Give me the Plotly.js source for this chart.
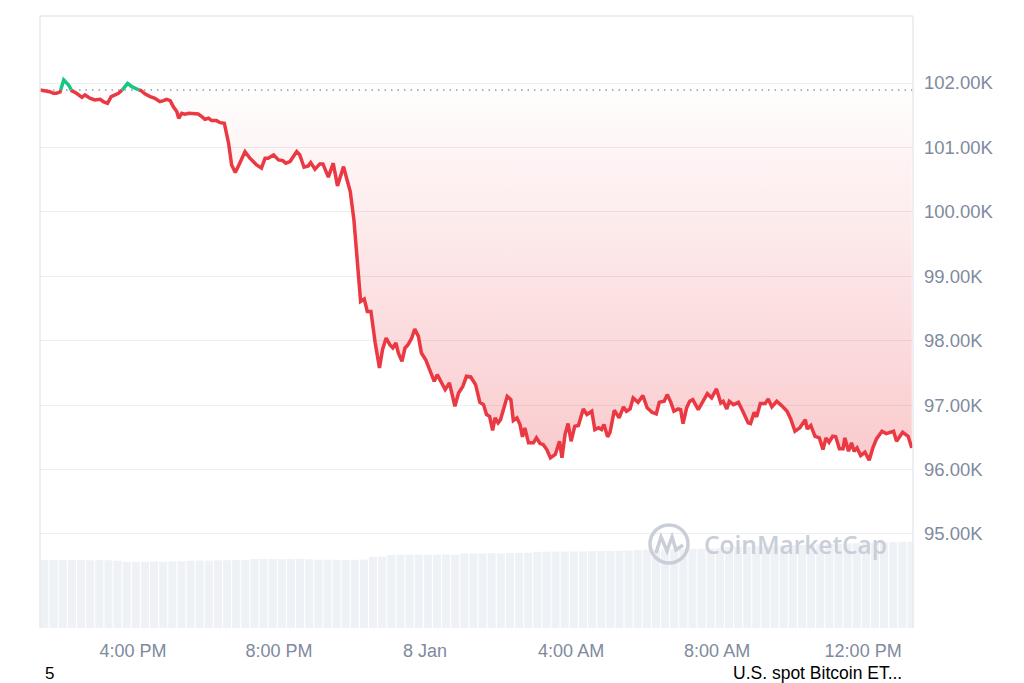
<!DOCTYPE html>
<html><head><meta charset="utf-8">
<script src="https://cdn.plot.ly/plotly-3.0.1.min.js"></script>
<style>html,body{margin:0;padding:0;background:#fff}#chart{width:1024px;height:683px}</style>
</head><body><div id="chart"></div>
<script>
// ---- data ----
const startTime = Date.UTC(2025, 0, 7, 13, 27); // 7 Jan, 13:27
const rangeMinutes = [0, 1435];

const priceMinutes = [0,8,16,22,27,33,39,47,52,60,69,74,82,90,99,104,111,117,123,129,135,144,151,159,166,173,181,189,197,203,208,214,219,225,228,233,238,245,252,260,266,271,277,282,290,296,303,310,315,321,327,337,345,356,364,370,375,384,392,399,404,411,422,427,434,441,445,452,460,465,474,482,489,493,499,504,510,516,521,527,533,538,544,551,558,563,569,575,580,585,589,595,600,605,611,616,622,627,634,641,648,653,659,666,673,677,682,688,695,701,708,716,723,729,734,739,744,748,753,757,762,768,774,778,784,789,793,797,803,811,816,822,827,833,839,847,854,858,863,868,873,879,885,893,899,907,912,918,923,927,933,937,944,952,959,964,970,975,983,991,998,1006,1013,1018,1026,1031,1037,1042,1049,1053,1057,1063,1068,1073,1082,1090,1097,1104,1112,1119,1123,1129,1133,1140,1148,1156,1164,1168,1174,1178,1184,1192,1197,1203,1211,1219,1228,1234,1241,1249,1258,1261,1267,1274,1281,1287,1292,1297,1303,1308,1314,1320,1323,1329,1334,1338,1343,1349,1356,1363,1369,1375,1384,1391,1396,1403,1408,1418,1427,1433];

const priceUSD = [101891,101881,101865,101840,101840,101860,102047,101969,101881,101840,101778,101814,101763,101736,101747,101710,101685,101788,101809,101840,101891,101995,101943,101902,101881,101829,101788,101763,101710,101726,101747,101726,101633,101555,101453,101530,101515,101530,101519,101519,101478,101437,101453,101416,101416,101384,101375,101065,100729,100609,100729,100935,100833,100729,100678,100833,100833,100884,100806,100795,100755,100780,100935,100884,100693,100713,100764,100662,100744,100744,100538,100755,100403,100522,100702,100522,100315,99876,99360,98609,98647,98454,98454,97964,97577,97860,98042,97938,97887,97964,97809,97679,97887,97938,98042,98181,98067,97809,97705,97550,97369,97473,97353,97240,97344,97163,96981,97189,97291,97447,97437,97318,97043,97008,96853,96826,96609,96802,96724,96775,96930,97136,97085,96760,96802,96698,96507,96647,96414,96414,96491,96403,96388,96310,96181,96233,96439,96181,96543,96713,96439,96671,96682,96941,96853,96904,96620,96647,96620,96698,96507,96578,96919,96802,96972,96904,96941,97112,97043,97147,96957,96888,96864,97043,97059,97163,97043,96904,96941,96930,96713,96961,97059,97085,96930,97059,97178,97112,97251,97034,97059,96941,97059,97008,97043,96888,96724,96713,96888,96817,97023,97023,97096,96972,97059,96992,96904,96786,96594,96647,96775,96631,96682,96516,96491,96310,96491,96423,96516,96507,96321,96321,96491,96284,96414,96284,96336,96217,96268,96144,96336,96476,96594,96558,96578,96594,96439,96578,96516,96336];

const openPrice = 101891; // dotted reference line (first price)

const volumeMinutes = [0,15,30,45,60,75,90,105,120,135,150,165,180,195,210,225,240,255,270,285,300,315,330,345,360,375,390,405,420,435,450,465,480,495,510,525,540,555,570,585,600,615,630,645,660,675,690,705,720,735,750,765,780,795,810,825,840,855,870,885,900,915,930,945,960,975,990,1005,1020,1035,1050,1065,1080,1095,1110,1125,1140,1155,1170,1185,1200,1215,1230,1245,1260,1275,1290,1305,1320,1335,1350,1365,1380,1395,1410,1425];
const volumeB = [44.4,44.5,44.3,44.4,44.4,44.2,44.4,44.3,44.0,43.3,43.2,43.3,43.4,43.3,43.5,43.6,44.0,44.1,44.0,44.2,44.3,44.4,44.5,45.1,45.2,45.1,45.0,45.1,45.2,45.0,44.6,44.7,44.6,44.5,44.6,44.7,46.6,46.7,47.8,47.9,47.9,48.0,47.9,48.0,48.1,48.0,48.7,48.8,48.8,48.9,48.8,49.0,49.1,49.2,49.8,49.9,49.9,50.0,50.1,50.0,50.2,50.3,50.4,50.5,50.7,50.9,51.2,51.3,51.4,51.4,51.6,51.7,51.8,52.0,52.2,52.9,53.1,53.2,53.4,53.6,53.8,54.0,54.1,54.3,54.5,54.6,54.8,55.0,55.2,55.4,55.5,55.7,55.9,56.1,56.3,56.4];

const xTickMinutes = [153, 393, 633, 873, 1113, 1353];
const xTickLabels = ['4:00 PM', '8:00 PM', '8 Jan', '4:00 AM', '8:00 AM', '12:00 PM'];
const yTickValues = [95000, 96000, 97000, 98000, 99000, 100000, 101000, 102000];
const yTickLabels = ['95.00K', '96.00K', '97.00K', '98.00K', '99.00K', '100.00K', '101.00K', '102.00K'];
const yRange = [93540, 103040];
const volumeRange = [0, 400];

const footerLeft = '5';
const footerRight = 'U.S. spot Bitcoin ET...';
const watermark = 'CoinMarketCap';

// ---- build ----
const toT = m => startTime + m * 60000;
const xs = priceMinutes.map(toT);

function splitByBase(x, y, base) {
  const red = {x: [], y: []}, green = {x: [], y: []};
  const side = v => (v > base ? green : red);
  let cur = side(y[0]);
  cur.x.push(x[0]); cur.y.push(y[0]);
  for (let i = 1; i < x.length; i++) {
    const s = side(y[i]);
    if (s !== cur) {
      const t = (base - y[i - 1]) / (y[i] - y[i - 1]);
      const xc = x[i - 1] + t * (x[i] - x[i - 1]);
      cur.x.push(xc); cur.y.push(base);
      cur.x.push(null); cur.y.push(null);
      cur = s;
      cur.x.push(xc); cur.y.push(base);
    }
    cur.x.push(x[i]); cur.y.push(y[i]);
  }
  return {red, green};
}
const parts = splitByBase(xs, priceUSD, openPrice);

const RED = '#ea3943', GREEN = '#16c784';
const fontFam = '"Liberation Sans", Arial, Helvetica, sans-serif';
const tickFont = {family: fontFam, size: 18.5, color: '#808a9d'};

const traces = [
  {
    type: 'bar', x: volumeMinutes.map(m => toT(m + 7.5)), y: volumeB, yaxis: 'y2',
    marker: {color: '#eef1f6', line: {width: 0}}, hoverinfo: 'skip'
  },
  {
    type: 'scatter', mode: 'lines', x: xs, y: xs.map(() => openPrice),
    line: {width: 0, color: 'rgba(0,0,0,0)'}, hoverinfo: 'skip'
  },
  {
    type: 'scatter', mode: 'lines', x: xs, y: priceUSD, fill: 'tonexty',
    line: {width: 0, color: 'rgba(0,0,0,0)'},
    fillgradient: {type: 'vertical', start: 96000, stop: openPrice,
      colorscale: [[0, 'rgba(234,57,67,0.27)'], [1, 'rgba(234,57,67,0.01)']]},
    hoverinfo: 'skip'
  },
  {
    type: 'scatter', mode: 'lines', x: parts.red.x, y: parts.red.y,
    line: {color: RED, width: 3.5}, connectgaps: false, hoverinfo: 'skip'
  },
  {
    type: 'scatter', mode: 'lines', x: parts.green.x, y: parts.green.y,
    line: {color: GREEN, width: 3.5}, connectgaps: false, hoverinfo: 'skip'
  }
];

const px = x => (x - 40) / 873, py = y => (628 - y) / 612;
const border = '#e6e8ec';
const wm = '#c9ced8';

const layout = {
  width: 1024, height: 683,
  margin: {l: 40, r: 111, t: 16, b: 55, pad: 0},
  paper_bgcolor: '#ffffff', plot_bgcolor: '#ffffff',
  showlegend: false, bargap: 0.12, hovermode: false,
  font: {family: fontFam, color: '#808a9d', size: 18},
  xaxis: {
    type: 'date', range: rangeMinutes.map(toT),
    tickvals: xTickMinutes.map(toT), ticktext: xTickLabels,
    showgrid: false, zeroline: false, showline: false, ticks: '',
    ticklabelstandoff: 10, tickfont: {family: fontFam, size: 18, color: '#808a9d'}, fixedrange: true
  },
  yaxis: {
    side: 'right', range: yRange, tickvals: yTickValues, ticktext: yTickLabels,
    showgrid: true, gridcolor: '#eceef2', gridwidth: 1, zeroline: false, showline: false,
    ticks: '', ticklabelstandoff: 10, tickfont: tickFont, fixedrange: true
  },
  yaxis2: {overlaying: 'y', range: volumeRange, visible: false, fixedrange: true},
  shapes: [
    {type: 'line', xref: 'paper', yref: 'y', x0: 0, x1: 1, y0: openPrice, y1: openPrice,
     line: {color: '#959dac', width: 1.4, dash: '1.5px,5px'}, layer: 'below'},
    {type: 'line', xref: 'paper', yref: 'paper', x0: 0, x1: 1, y0: 1, y1: 1, line: {color: border, width: 1.5}},
    {type: 'line', xref: 'paper', yref: 'paper', x0: 0, x1: 0, y0: 0, y1: 1, line: {color: border, width: 1.5}},
    {type: 'line', xref: 'paper', yref: 'paper', x0: 1, x1: 1, y0: 0, y1: 1, line: {color: border, width: 1.5}},
    {type: 'circle', xref: 'paper', yref: 'paper', x0: px(650), x1: px(688), y0: py(563), y1: py(525),
     line: {color: wm, width: 3.5}, layer: 'above'},
    {type: 'path', xref: 'paper', yref: 'paper',
     path: 'M ' + px(656) + ' ' + py(553) + ' L ' + px(661) + ' ' + py(537) + ' L ' + px(667) + ' ' + py(551) +
           ' L ' + px(672) + ' ' + py(537) + ' L ' + px(676) + ' ' + py(550) + ' L ' + px(683) + ' ' + py(545),
     line: {color: wm, width: 3.5}, layer: 'above'}
  ],
  annotations: [
    {text: watermark, xref: 'paper', yref: 'paper', x: px(795), y: py(544), xanchor: 'center', yanchor: 'middle',
     showarrow: false, font: {family: '"Open Sans", ' + fontFam, size: 24.5, weight: 600, color: wm}},
    {text: footerLeft, xref: 'paper', yref: 'paper', x: px(43), y: py(673), xanchor: 'left', yanchor: 'middle',
     showarrow: false, font: {family: fontFam, size: 17, color: '#000000'}},
    {text: footerRight, xref: 'paper', yref: 'paper', x: px(904), y: py(673), xanchor: 'right', yanchor: 'middle',
     showarrow: false, font: {family: fontFam, size: 17.5, color: '#000000'}}
  ]
};

Plotly.newPlot('chart', traces, layout, {staticPlot: true, displayModeBar: false});
</script>
</body></html>
